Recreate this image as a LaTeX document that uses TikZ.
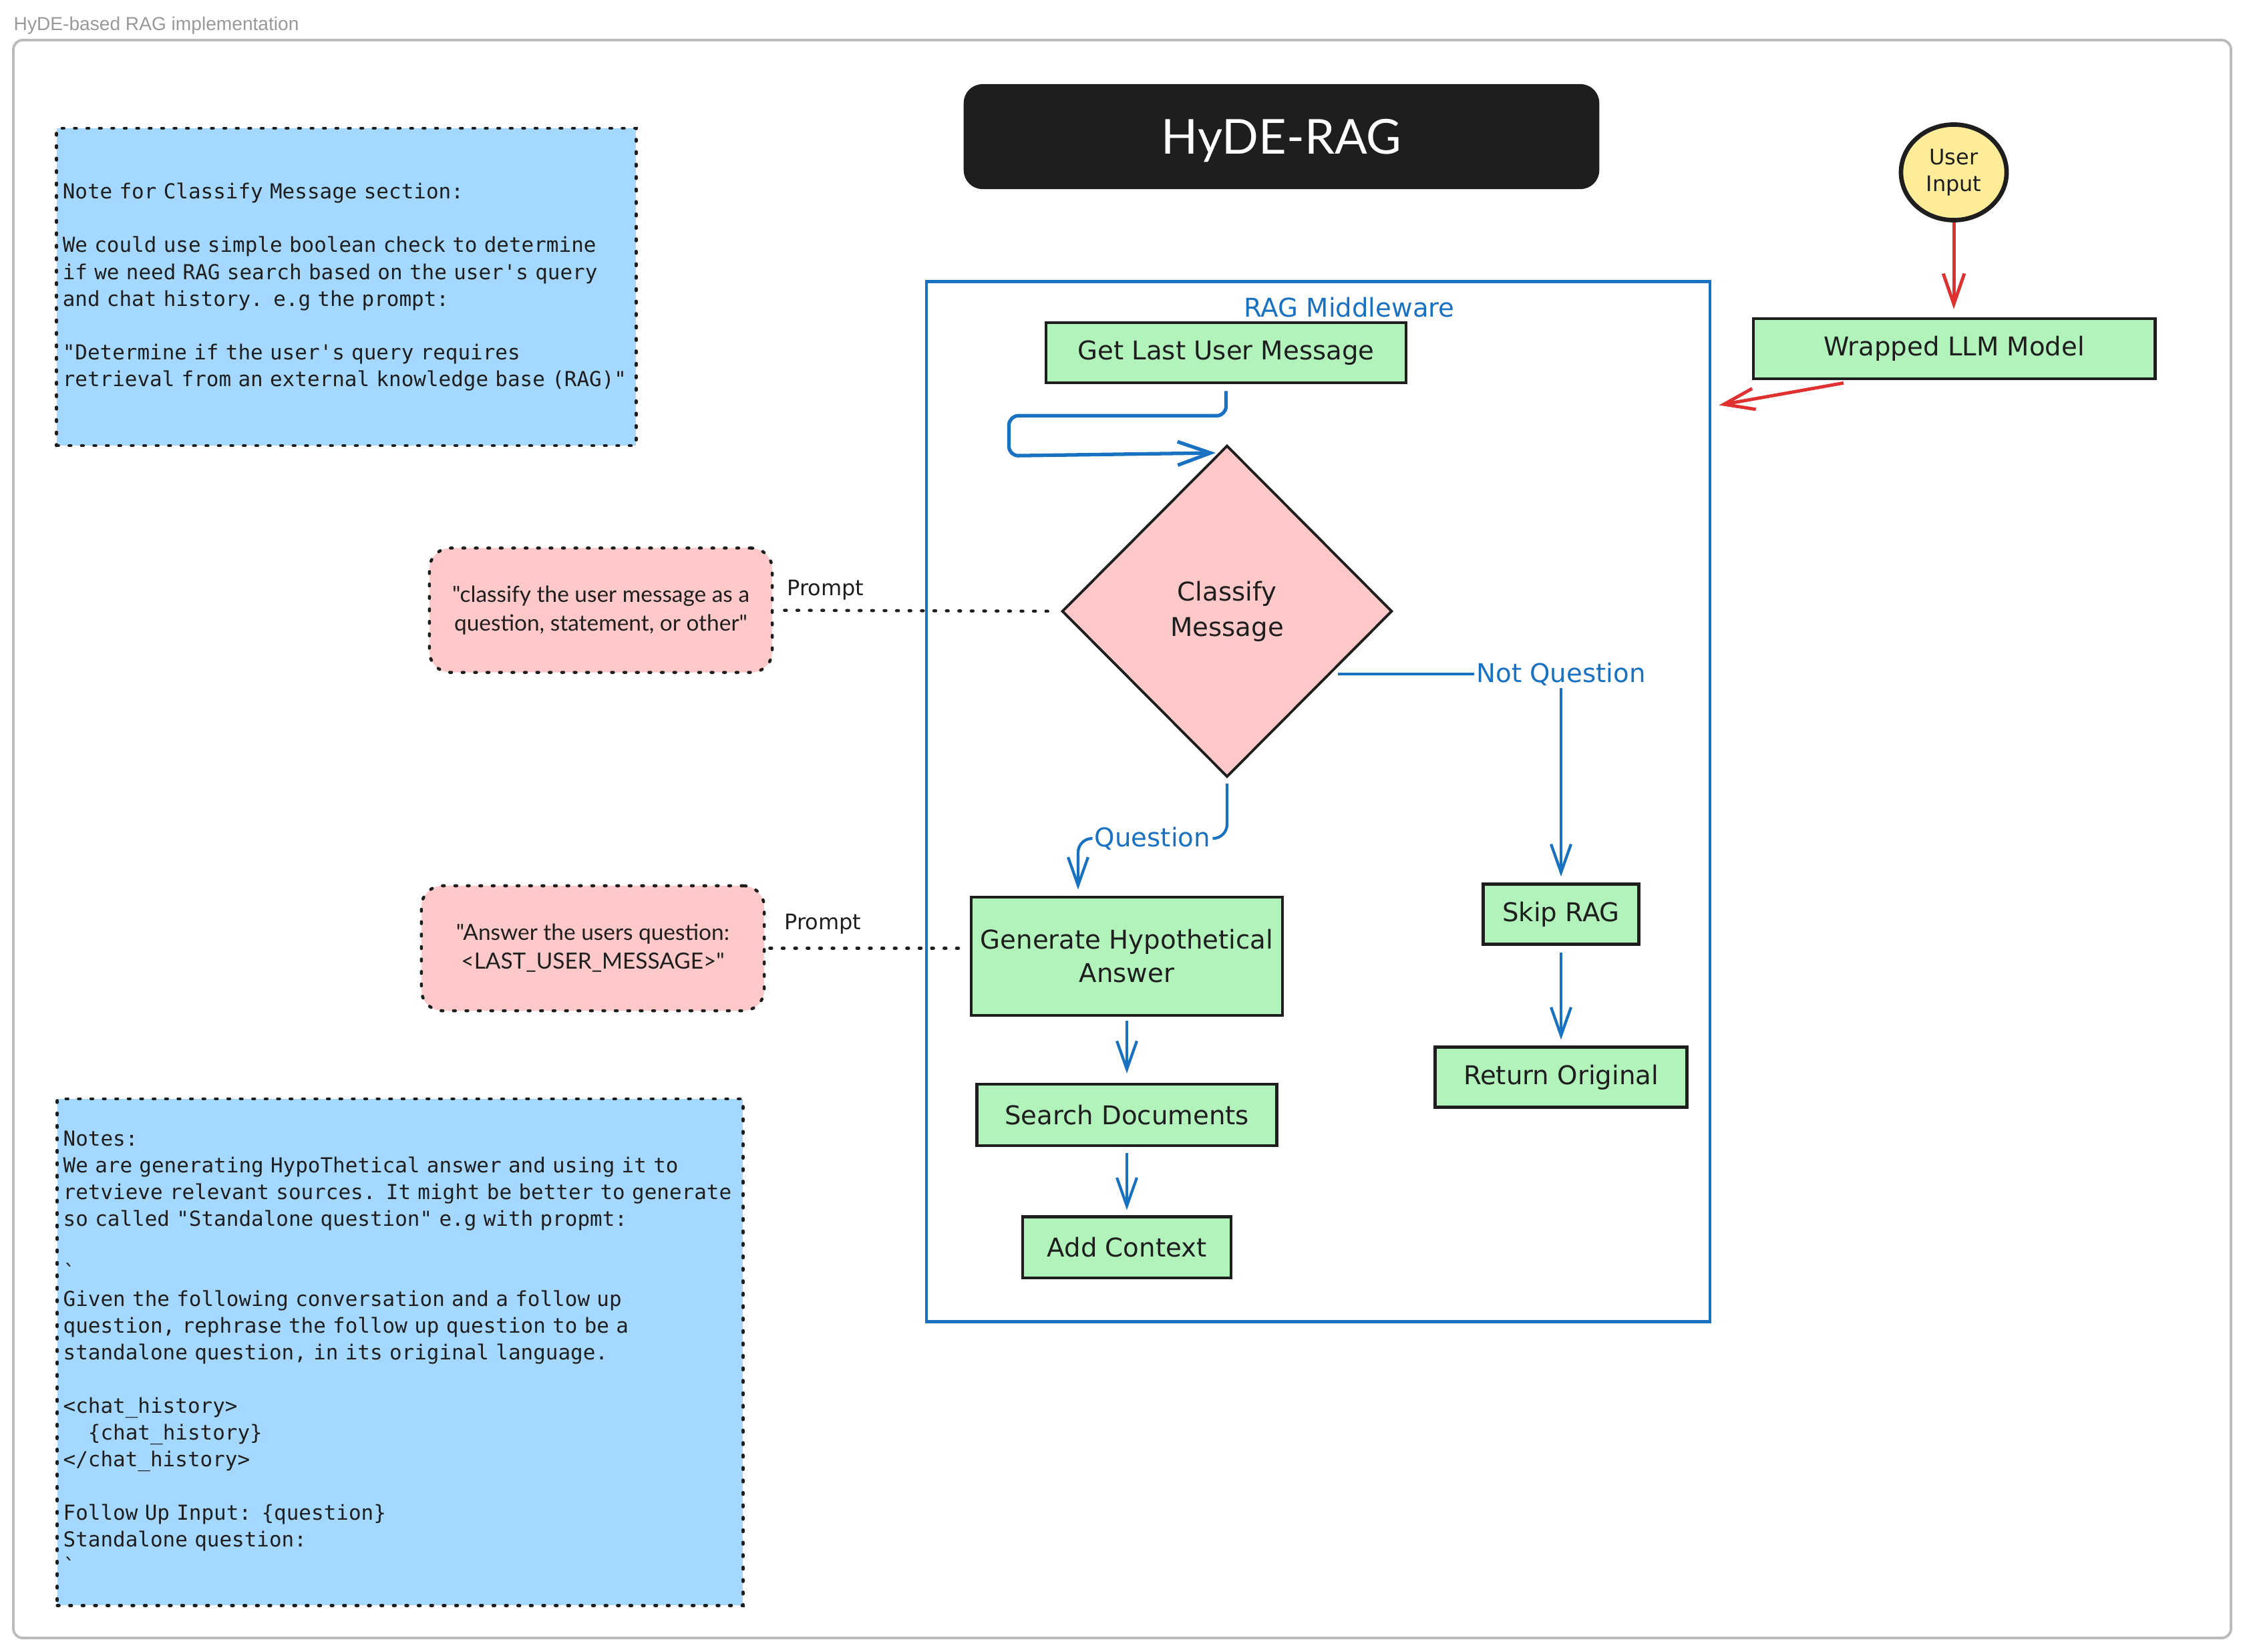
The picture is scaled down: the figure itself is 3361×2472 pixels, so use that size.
\documentclass[tikz,border=0pt]{standalone}
\usepackage{fontspec}
\usetikzlibrary{positioning,shapes.geometric,arrows.meta,calc}
\setmainfont{DejaVu Sans}
\newfontfamily\notefont{DejaVu Sans Mono}[Ligatures=TeXOff]
\newfontfamily\promptfont{Lato}
\newfontfamily\framefont{Liberation Sans}
\newcommand\sketchtext{\fontsize{11pt}{14.2pt}\selectfont}
\newcommand\smalltext{\fontsize{9.1pt}{11.4pt}\selectfont}
\newcommand\notetext{\notefont\fontsize{8.8pt}{11.38pt}\selectfont}
\newcommand\prompttext{\promptfont\fontsize{9.5pt}{12.2pt}\selectfont}
\newcommand\titletext{\promptfont\fontsize{20.5pt}{24pt}\selectfont}
\newcommand\headtext{\framefont\fontsize{8pt}{10pt}\selectfont}
\definecolor{ink}{HTML}{1E1E1E}
\definecolor{boxgreen}{HTML}{B2F2BB}
\definecolor{pinkfill}{HTML}{FFC9C9}
\definecolor{noteblue}{HTML}{A5D8FF}
\definecolor{yellowfill}{HTML}{FFEC99}
\definecolor{ragblue}{HTML}{1971C2}
\definecolor{sketchred}{HTML}{E03131}
\definecolor{framegray}{HTML}{BBBBBB}
\definecolor{headgray}{HTML}{999999}
\begin{document}
\begin{tikzpicture}[x=0.01cm, y=-0.01cm,
    box/.style={draw=ink, line width=1.3pt, fill=boxgreen, text=ink, inner sep=0pt, font=\sketchtext},
    flow/.style={draw=ragblue, line width=1.2pt, -{Straight Barb[length=12pt,width=8.5pt]}},
    redflow/.style={draw=sketchred, line width=1.4pt, -{Straight Barb[length=13pt,width=9pt]}},
    lbl/.style={fill=white, text=ragblue, font=\sketchtext, inner sep=1pt},
    dots/.style={draw=ink, line width=1.3pt, line cap=round, dash pattern=on 0.8pt off 4.5pt},
    note/.style={dots, fill=noteblue, text=ink, align=left, inner xsep=0.09cm, font=\notetext},
    prompt/.style={dots, fill=pinkfill, text=ink, rounded corners=9pt, align=center, font=\prompttext}]
    \useasboundingbox (0,0) rectangle (3361,2472);
    \fill[white] (0,0) rectangle (3361,2472);
    \node[anchor=base west, text=headgray, font=\headtext, inner sep=0pt] (framename) at (20,45) {HyDE-based RAG implementation};
    \draw[framegray, line width=1.1pt, rounded corners=4pt] (20,60) rectangle (3340,2452);

    \node[fill=ink, rounded corners=8pt, minimum width=9.51cm, minimum height=1.57cm, text depth=0pt, text=white, font=\titletext] (title) at (1918.5,204.5) {HyDE-RAG};

    \node[note, text width=8.49cm, minimum height=4.75cm] (note1) at (518.5,429.5) {Note for Classify Message section:\\
        \mbox{}\\
        We could use simple boolean check to determine\\
        if we need RAG search based on the user's query\\
        and chat history. e.g the prompt:\\
        \mbox{}\\
        "Determine if the user's query requires\\
        retrieval from an external knowledge base (RAG)"};
    \node[note, text width=10.08cm, minimum height=7.58cm] (note2) at (599,2024) {Notes:\\
        We are generating HypoThetical answer and using it to\\
        retvieve relevant sources. It might be better to generate\\
        so called "Standalone question" e.g with propmt:\\
        \mbox{}\\
        `\\
        Given the following conversation and a follow up\\
        question, rephrase the follow up question to be a\\
        standalone question, in its original language.\\
        \mbox{}\\
        <chat\_history>\\
        \hphantom{xx}\{chat\_history\}\\
        </chat\_history>\\
        \mbox{}\\
        Follow Up Input: \{question\}\\
        Standalone question:\\
        `};

    \node[draw=ragblue, line width=1.2pt, minimum width=11.73cm, minimum height=15.56cm, inner sep=0pt] (rag) at (1973.5,1200) {};
    \node[text=ragblue, font=\sketchtext] (raglabel) at (2020,460) {RAG Middleware};

    \node[box, minimum width=5.39cm, minimum height=0.9cm] (getmsg) at (1835.5,528) {Get Last User Message};
    \node[diamond, draw=ink, line width=1.1pt, fill=pinkfill, text=ink, aspect=1, inner sep=0pt, minimum width=4.94cm, minimum height=4.96cm, align=center, font=\fontsize{11pt}{15pt}\selectfont] (cls) at (1837,915) {Classify\\Message};
    \node[box, minimum width=4.66cm, minimum height=1.77cm, align=center] (gen) at (1687,1431.5) {Generate Hypothetical\\Answer};
    \node[box, minimum width=4.49cm, minimum height=0.92cm, below of=gen, node distance=2.375cm] (search) {Search Documents};
    \node[box, minimum width=3.12cm, minimum height=0.91cm, below of=search, node distance=1.98cm] (addctx) {Add Context};
    \node[box, minimum width=2.33cm, minimum height=0.9cm] (skip) at (2337,1368.5) {Skip RAG};
    \node[box, minimum width=3.77cm, minimum height=0.9cm, below of=skip, node distance=2.44cm] (ret) {Return Original};

    \node[ellipse, draw=ink, line width=1.9pt, fill=yellowfill, text=ink, inner sep=0pt, minimum width=1.58cm, minimum height=1.43cm, align=center, font=\smalltext] (user) at (2925,258) {User\\Input};
    \node[box, minimum width=6.01cm, minimum height=0.9cm] (wrapped) at (2925.5,522) {Wrapped LLM Model};

    \node[prompt, minimum width=5.13cm, minimum height=1.86cm] (askcls) at (899.5,913.5) {"classify the user message as a\\question, statement, or other"};
    \node[prompt, minimum width=5.13cm, minimum height=1.87cm] (askhyp) at (887.5,1419.5) {"Answer the users question:\\<LAST\_USER\_MESSAGE>"};

    \draw[flow, line width=1.5pt, rounded corners=4pt, -{Straight Barb[length=14pt,width=10pt]}] ([yshift=-0.1cm]getmsg.south) -- ++(0,37) -- ++(-325,0) -- ++(0,60) -- ([xshift=-0.17cm,yshift=-0.13cm]cls.north);
    \draw[flow, rounded corners=6pt] ([yshift=-0.08cm]cls.south) -- ++(0,82) -| node[lbl, pos=0.25] (qlabel) {Question} ([xshift=-0.73cm,yshift=0.09cm]gen.north);
    \draw[flow] ([xshift=0.1cm]$(cls.east)!0.375!(cls.south)$) -| node[lbl, pos=0.5] (nqlabel) {Not Question} ([yshift=0.09cm]skip.north);
    \draw[flow, shorten <=0.06cm, shorten >=0.14cm] (gen.south) -- (search.north);
    \draw[flow, shorten <=0.09cm, shorten >=0.08cm] (search.south) -- (addctx.north);
    \draw[flow, shorten <=0.1cm, shorten >=0.09cm] (skip.south) -- (ret.north);

    \draw[redflow, shorten >=0.12cm] (user.south) -- (user.south |- wrapped.north);
    \draw[redflow] ([xshift=-1.655cm,yshift=-0.04cm]wrapped.south) -- ([xshift=0.11cm,yshift=-1.87cm]rag.north east);

    \draw[dots, shorten <=0.16cm, shorten >=0.04cm] (askcls.east) -- node[pos=0.18, yshift=0.31cm, text=ink, font=\smalltext] (clsprompt) {Prompt} (cls.west);
    \draw[dots, shorten <=0.06cm, shorten >=0.14cm] (askhyp.east) -- node[pos=0.28, yshift=0.365cm, text=ink, font=\smalltext] (hypprompt) {Prompt} (askhyp.east -| gen.west);
\end{tikzpicture}
\end{document}
